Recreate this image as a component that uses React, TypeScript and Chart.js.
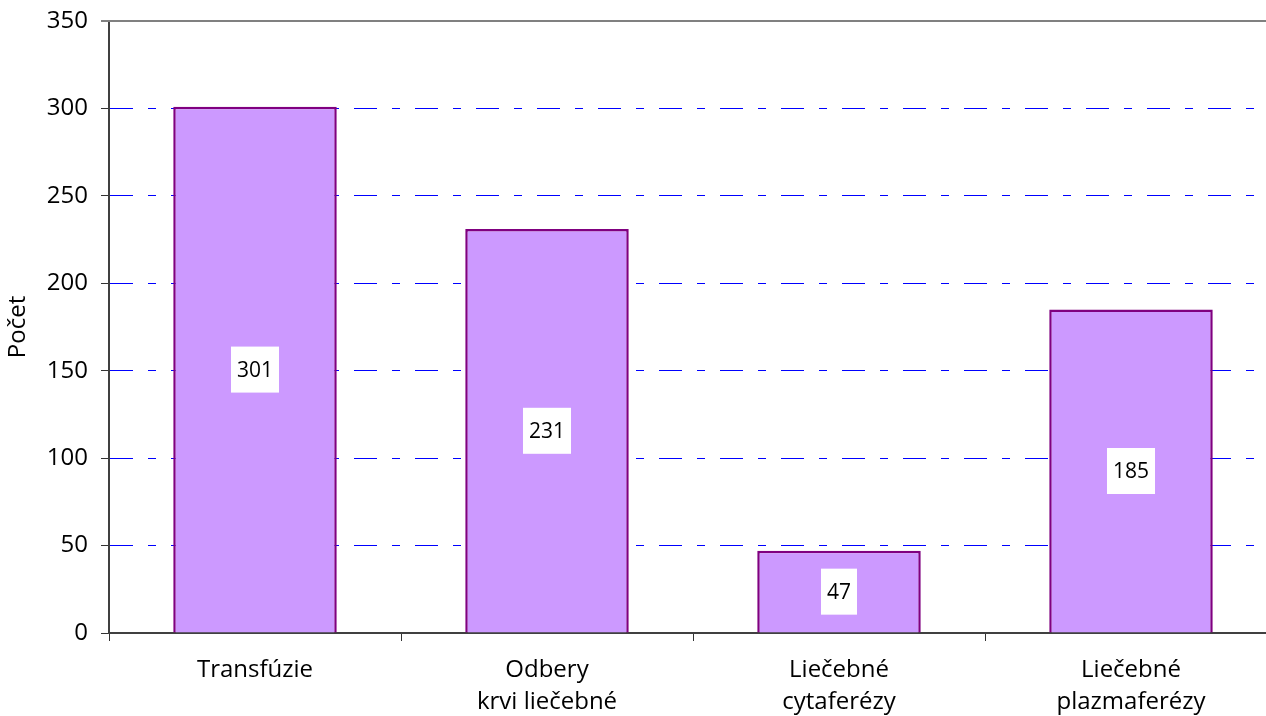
import React, { useRef, useEffect } from 'react';
import { Chart, registerables } from 'chart.js';

Chart.register(...registerables);

// chart data
const categories = [
  ['Transfúzie'],
  ['Odbery', 'krvi liečebné'],
  ['Liečebné', 'cytaferézy'],
  ['Liečebné', 'plazmaferézy'],
];
const counts = [301, 231, 47, 185];
const yMin = 0;
const yMax = 350;
const yStep = 50;
const yTitle = 'Počet';

const FONT = "'Open Sans', sans-serif";

// white boxes with the value in the middle of each bar
const valueBoxes = {
  id: 'valueBoxes',
  afterDatasetsDraw(chart: any) {
    const ctx = chart.ctx;
    const meta = chart.getDatasetMeta(0);
    ctx.save();
    ctx.font = `21px ${FONT}`;
    ctx.textAlign = 'center';
    ctx.textBaseline = 'middle';
    meta.data.forEach((bar: any, i: number) => {
      const { x, y, base } = bar.getProps(['x', 'y', 'base'], true);
      const cy = (y + base) / 2;
      const text = String(counts[i]);
      const w = ctx.measureText(text).width + 12;
      ctx.fillStyle = '#ffffff';
      ctx.fillRect(x - w / 2, cy - 23, w, 46);
      ctx.fillStyle = '#000000';
      ctx.fillText(text, x, cy + 1);
    });
    ctx.restore();
  },
};

// gray line along the top of the plot
const topLine = {
  id: 'topLine',
  beforeDatasetsDraw(chart: any) {
    const { ctx, chartArea } = chart;
    ctx.save();
    ctx.strokeStyle = '#808080';
    ctx.lineWidth = 2;
    ctx.beginPath();
    ctx.moveTo(chartArea.left - 8, chartArea.top);
    ctx.lineTo(chartArea.right, chartArea.top);
    ctx.stroke();
    ctx.restore();
  },
};

export default function App() {
  const canvasRef = useRef<HTMLCanvasElement | null>(null);
  const chartRef = useRef<Chart | null>(null);

  useEffect(() => {
    if (!canvasRef.current) return;
    if (chartRef.current) chartRef.current.destroy();

    chartRef.current = new Chart(canvasRef.current, {
      type: 'bar',
      data: {
        labels: categories,
        datasets: [
          {
            label: yTitle,
            data: counts,
            backgroundColor: '#CC99FF',
            borderColor: '#800080',
            borderWidth: 2.5,
            barPercentage: 1,
            categoryPercentage: 0.56,
          },
        ],
      },
      options: {
        animation: false,
        responsive: true,
        maintainAspectRatio: false,
        layout: { padding: { top: 21, left: 0, right: 0, bottom: 0 } },
        plugins: {
          legend: { display: false },
          tooltip: { enabled: false },
        },
        scales: {
          x: {
            grid: {
              drawOnChartArea: false,
              drawTicks: true,
              tickLength: 8,
              tickColor: '#333333',
              tickWidth: 1,
            },
            border: { display: true, color: '#404040', width: 2 },
            ticks: {
              color: '#000000',
              padding: 13,
              font: { family: FONT, size: 24, lineHeight: 1.33 },
              maxRotation: 0,
              autoSkip: false,
            },
            afterFit: (scale: any) => {
              scale.height = 83;
              scale.paddingLeft = 0;
              scale.paddingRight = 0;
            },
          },
          y: {
            min: yMin,
            max: yMax,
            grid: {
              color: (c: any) =>
                c.tick && (c.tick.value === yMax || c.tick.value === yMin) ? 'rgba(0,0,0,0)' : '#0000FF',
              lineWidth: 1,
              drawTicks: true,
              tickLength: 8,
              tickColor: '#333333',
              tickWidth: 1,
            },
            border: { display: true, color: '#404040', width: 2, dash: [23, 15, 8, 15] },
            ticks: {
              stepSize: yStep,
              color: '#000000',
              padding: 13,
              font: { family: FONT, size: 24 },
            },
            title: {
              display: true,
              text: yTitle,
              color: '#000000',
              font: { family: FONT, size: 24 },
              padding: { top: 4, bottom: 0 },
            },
            afterFit: (scale: any) => {
              scale.width = 109;
              scale.paddingTop = 0;
              scale.paddingBottom = 0;
            },
          },
        },
      },
      plugins: [topLine, valueBoxes],
    });

    return () => {
      if (chartRef.current) {
        chartRef.current.destroy();
        chartRef.current = null;
      }
    };
  }, []);

  return (
    <div
      style={{
        position: 'fixed',
        top: 0,
        left: 0,
        width: 1266,
        height: 716,
        overflow: 'hidden',
        background: '#ffffff',
      }}
    >
      <div style={{ position: 'relative', width: 1277, height: 716 }}>
        <canvas ref={canvasRef} />
      </div>
    </div>
  );
}
